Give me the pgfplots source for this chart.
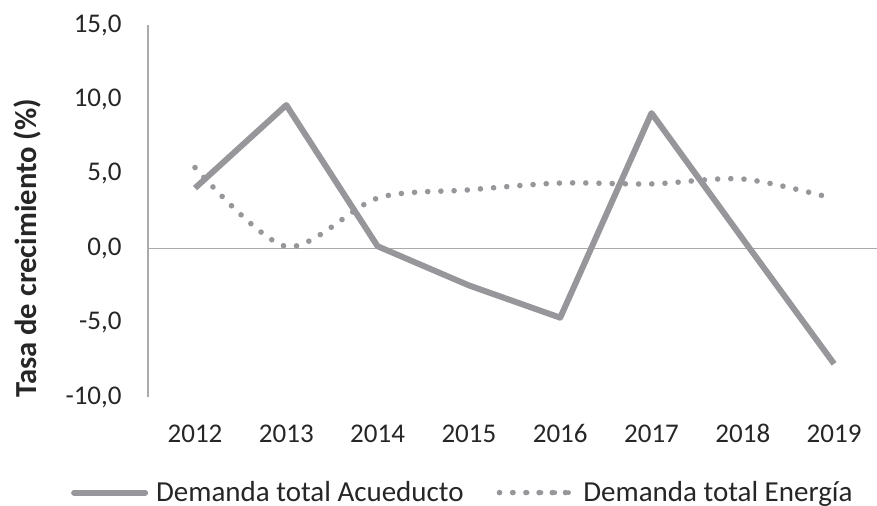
\documentclass[border=0pt]{standalone}
\usepackage{fontspec}
\setmainfont{Carlito}
\usepackage{pgfplots}
\pgfplotsset{compat=1.18}
\definecolor{lineg}{RGB}{151,151,155}
\definecolor{axg}{RGB}{170,170,170}
\definecolor{textc}{RGB}{38,38,38}

\begin{document}
\begin{tikzpicture}
\begin{axis}[
    scale only axis,
    width=364.5pt, height=186pt,
    xmin=-0.515, xmax=7.47,
    ymin=-10, ymax=15,
    axis x line*=bottom,
    x axis line style={draw=none},
    axis y line*=left,
    y axis line style={draw=axg, line width=0.6pt},
    xtick={0,...,7},
    xticklabels={2012,2013,2014,2015,2016,2017,2018,2019},
    ytick={-10,-5,0,5,10,15},
    major tick length=0pt,
    extra y ticks={0},
    extra y tick labels={},
    extra y tick style={grid=major, major grid style={draw=axg, line width=0.6pt}},
    font=\fontsize{13.5}{16}\selectfont,
    tick label style={text=textc, inner sep=0pt},
    xticklabel style={anchor=base, yshift=-22.5pt},
    yticklabel style={anchor=east, xshift=-13pt},
    /pgf/number format/.cd, fixed, fixed zerofill, precision=1, use comma, assume math mode=true,
    /pgfplots/.cd,
    ylabel={\fontsize{15.3}{18}\selectfont\bfseries Tasa de crecimiento (\%)},
    ylabel style={at={(axis description cs:-0.166,0.40)}, anchor=center, text=textc},
    legend columns=2,
    legend style={draw=none, fill=none, inner sep=0pt,
        at={(axis description cs:-0.106,-0.257)}, anchor=west,
        font=\fontsize{14.5}{17}\selectfont,
        nodes={inner sep=0pt, text=textc},
        /tikz/every odd column/.append style={column sep=4pt},
        /tikz/every even column/.append style={column sep=16.5pt}},
    clip=false,
]
\addplot[lineg, line width=3pt, line join=round,
    legend image code/.code={\draw[lineg, line width=3pt, line cap=round] (0pt,0pt) -- (35.5pt,0pt);}]
  coordinates {(0,4.04) (1,9.62) (2,0.13) (3,-2.5) (4,-4.67) (5,9.08) (6,0.62) (7,-7.77)};
\addlegendentry{Demanda total Acueducto}
\addplot[lineg, line width=2.8pt, line cap=round, dash pattern=on 0pt off 6.6pt, smooth, tension=0.5,
    legend image code/.code={\path (0pt,0pt) -- (36.5pt,0pt);
      \draw[lineg, line width=2.4pt, line cap=round, dash pattern=on 0pt off 6.9pt] (0pt,0pt) -- (34.6pt,0pt);}]
  coordinates {(0,5.42) (1,0.12) (2,3.37) (3,3.92) (4,4.38) (5,4.32) (6,4.65) (7,3.33)};
\addlegendentry{Demanda total Energía}
\end{axis}
\pgfresetboundingbox
\useasboundingbox (-74pt,-54pt) rectangle (364.5pt,198.5pt);
\end{tikzpicture}
\end{document}
